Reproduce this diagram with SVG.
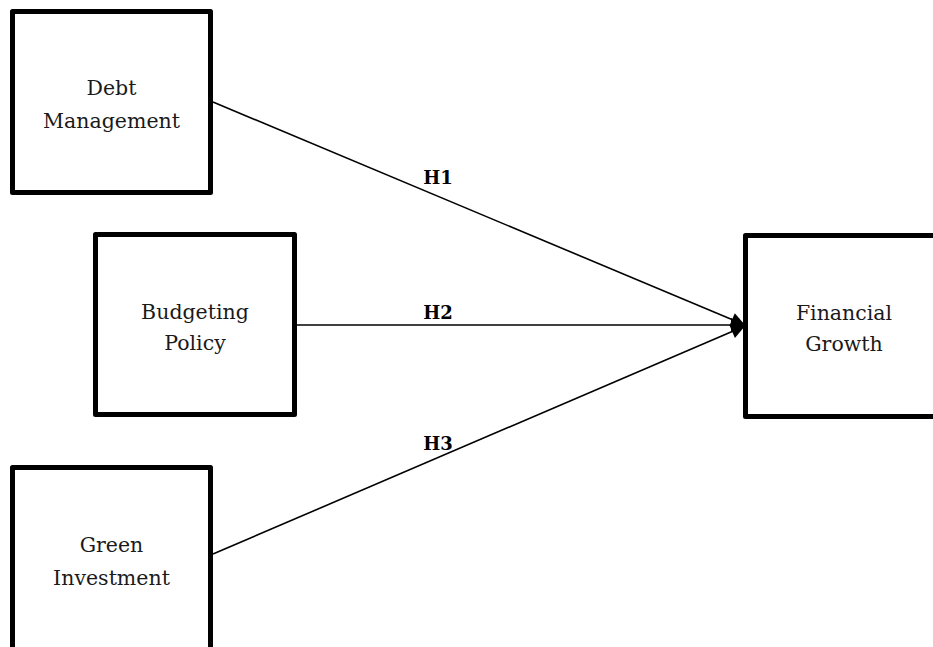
<svg xmlns="http://www.w3.org/2000/svg" width="933" height="647" viewBox="0 0 933 647">
<style>
.box{fill:#fff;stroke:#000;stroke-width:5;stroke-linejoin:round}
.t{font-family:"DejaVu Serif","Liberation Serif",serif;font-size:20.5px;fill:#1a1a1a;text-anchor:middle}
.h{font-family:"DejaVu Serif","Liberation Serif",serif;font-size:18px;font-weight:bold;fill:#000;text-anchor:middle}
.c{stroke:#000;stroke-width:1.6;fill:none;marker-end:url(#ah)}
</style>
<defs>
<marker id="ah" viewBox="0 0 10 10" refX="10" refY="5" markerWidth="15" markerHeight="14" markerUnits="userSpaceOnUse" orient="auto">
<path d="M0,0 L10,5 L0,10 z" fill="#000"/>
</marker>
</defs>
<rect width="933" height="647" fill="#fff"/>
<g id="connectors">
<line class="c" x1="213" y1="102" x2="745" y2="325"/>
<line class="c" x1="297" y1="325" x2="745" y2="325"/>
<line class="c" x1="213" y1="554" x2="745" y2="326"/>
<text class="h" x="438" y="184">H1</text>
<text class="h" x="438" y="319">H2</text>
<text class="h" x="438" y="450">H3</text>
</g>
<g id="debt">
<rect class="box" x="12.5" y="11.5" width="198" height="181"/>
<text class="t" x="111.5" y="95">Debt</text>
<text class="t" x="111.5" y="128">Management</text>
</g>
<g id="budget">
<rect class="box" x="95.5" y="234.5" width="199" height="180"/>
<text class="t" x="195" y="319">Budgeting</text>
<text class="t" x="195" y="350">Policy</text>
</g>
<g id="green">
<rect class="box" x="12.5" y="467.5" width="198" height="200"/>
<text class="t" x="111.5" y="552">Green</text>
<text class="t" x="111.5" y="585">Investment</text>
</g>
<g id="financial">
<rect class="box" x="745.5" y="235.5" width="200" height="181"/>
<text class="t" x="844" y="320">Financial</text>
<text class="t" x="844" y="351">Growth</text>
</g>
</svg>
